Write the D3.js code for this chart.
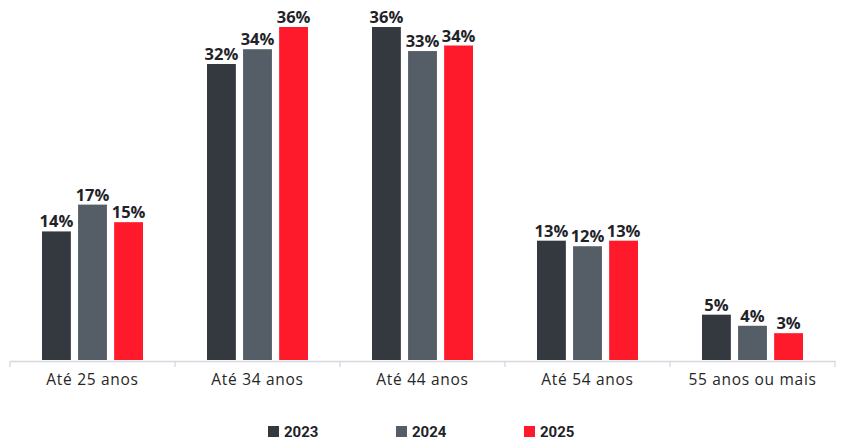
<!DOCTYPE html>
<html>
<head>
<meta charset="utf-8">
<script src="https://cdn.jsdelivr.net/npm/d3@7"></script>
<style>
  html, body { margin: 0; padding: 0; background: #fff; }
  svg { display: block; }
</style>
</head>
<body>
<svg id="chart" width="844" height="440"></svg>
<script>
const categories = ["Até 25 anos", "Até 34 anos", "Até 44 anos", "Até 54 anos", "55 anos ou mais"];
const seriesNames = ["2023", "2024", "2025"];
const values2023 = [13.9, 32.0, 36.0, 12.9, 4.9];
const values2024 = [16.8, 33.6, 33.4, 12.3, 3.7];
const values2025 = [14.9, 36.0, 34.0, 12.9, 2.9];
const labels2023 = ["14%", "32%", "36%", "13%", "5%"];
const labels2024 = ["17%", "34%", "33%", "12%", "4%"];
const labels2025 = ["15%", "36%", "34%", "13%", "3%"];
const colors = ["#343940", "#555e66", "#ff1a2b"];

const seriesValues = [values2023, values2024, values2025];
const seriesLabels = [labels2023, labels2024, labels2025];

const svg = d3.select("#chart");
const baseY = 360;

const x0 = d3.scaleBand().domain(categories).range([10, 835]).paddingInner(0).paddingOuter(0);
const x1 = d3.scaleBand().domain(seriesNames).range([32, 133]).paddingInner(0.2).paddingOuter(0);
const y = d3.scaleLinear().domain([0, 38.92]).range([baseY, 0]);

// bars
const groups = svg.append("g").selectAll("g")
  .data(categories)
  .join("g")
  .attr("transform", d => `translate(${x0(d)},0)`);

const rowData = (c, i) => seriesNames.map((s, j) => ({ s, j, v: seriesValues[j][i], l: seriesLabels[j][i] }));

groups.selectAll("rect")
  .data(rowData)
  .join("rect")
  .attr("x", d => x1(d.s))
  .attr("y", d => y(d.v))
  .attr("width", x1.bandwidth())
  .attr("height", d => baseY - y(d.v))
  .attr("fill", d => colors[d.j]);

groups.selectAll("text")
  .data(rowData)
  .join("text")
  .attr("x", d => x1(d.s) + x1.bandwidth() / 2)
  .attr("y", d => y(d.v) - 4)
  .attr("text-anchor", "middle")
  .attr("font-family", "'Century Gothic', 'Open Sans', 'DejaVu Sans', sans-serif")
  .attr("font-weight", "bold")
  .attr("font-size", 16.5)
  .attr("fill", "#1f2329")
  .text(d => d.l);

// x axis
const axis = d3.axisBottom(x0).tickSize(0).tickPadding(13);
const axG = svg.append("g").attr("transform", `translate(0,${baseY + 1})`).call(axis);
axG.select(".domain").attr("stroke", "#d6d6e0").attr("stroke-width", 1.3);
axG.selectAll(".tick text")
  .attr("font-family", "'Century Gothic', 'Open Sans', 'DejaVu Sans', sans-serif")
  .attr("font-size", 15.5)
  .attr("letter-spacing", 0.7)
  .attr("fill", "#262626");
// boundary ticks
const bounds = categories.map(c => x0(c)).concat([x0(categories[categories.length - 1]) + x0.bandwidth()]);
axG.selectAll("line.bound")
  .data(bounds)
  .join("line")
  .attr("class", "bound")
  .attr("x1", d => d).attr("x2", d => d)
  .attr("y1", 0).attr("y2", 6)
  .attr("stroke", "#d6d6e0").attr("stroke-width", 1.3);

// legend
const legendX = [268, 396, 524];
const lg = svg.append("g").selectAll("g")
  .data(seriesNames)
  .join("g")
  .attr("transform", (d, i) => `translate(${legendX[i]},426)`);
lg.append("rect").attr("width", 11).attr("height", 11).attr("fill", (d, i) => colors[i]);
lg.append("text")
  .attr("x", 16).attr("y", 11)
  .attr("font-family", "Roboto, Arial, sans-serif")
  .attr("font-weight", "bold")
  .attr("font-size", 15)
  .attr("fill", "#1f2329")
  .text(d => d);
</script>
</body>
</html>
